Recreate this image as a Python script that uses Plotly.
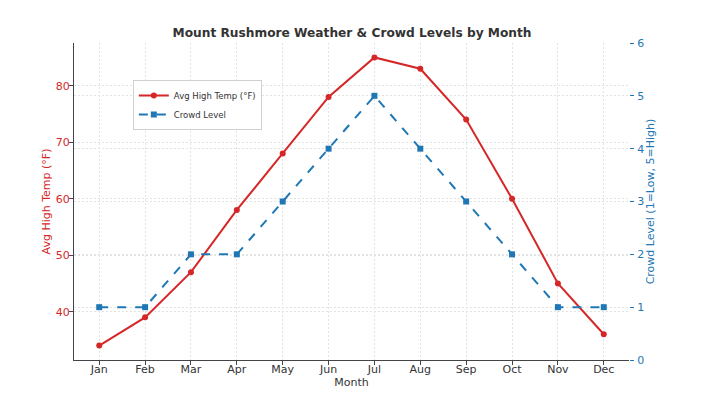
import plotly.graph_objects as go

months = ["Jan", "Feb", "Mar", "Apr", "May", "Jun", "Jul", "Aug", "Sep", "Oct", "Nov", "Dec"]
avg_high_temp = [34, 39, 47, 58, 68, 78, 85, 83, 74, 60, 45, 36]
crowd_level = [1, 1, 2, 2, 3, 4, 5, 4, 3, 2, 1, 1]

RED = "#d62728"
BLUE = "#1f77b4"
FONT = "DejaVu Sans"
GRID = "#e3e3e3"

fig = go.Figure()
fig.add_trace(go.Scatter(
    x=list(range(len(months))), y=avg_high_temp, name="Avg High Temp (°F)",
    mode="lines+markers", line=dict(color=RED, width=2),
    marker=dict(symbol="circle", size=6, color=RED), yaxis="y"))
fig.add_trace(go.Scatter(
    x=list(range(len(months))), y=crowd_level, name="Crowd Level",
    mode="lines+markers", line=dict(color=BLUE, width=2, dash="dash"),
    marker=dict(symbol="square", size=6, color=BLUE), yaxis="y2"))

fig.update_layout(
    width=705, height=391,
    margin=dict(l=66, r=84, t=35, b=39, autoexpand=False),
    paper_bgcolor="white", plot_bgcolor="white",
    font=dict(family=FONT, size=11, color="#333333"),
    title=dict(text="<b>Mount Rushmore Weather & Crowd Levels by Month</b>",
               x=0.488, xanchor="center", y=0.936, yanchor="middle",
               font=dict(size=12.2, color="#333333")),
    xaxis=dict(
        tickmode="array", tickvals=list(range(len(months))), ticktext=months,
        range=[-0.55, 11.55], showgrid=True, gridcolor=GRID, griddash="2px,2px",
        ticks="outside", ticklen=4, tickcolor="#444", showline=True, linecolor="#444",
        linewidth=1, zeroline=False, automargin=False, tickfont=dict(size=11),
        ticklabelstandoff=-5,
        title=dict(text="Month", standoff=2, font=dict(size=11))),
    yaxis=dict(
        range=[31.45, 87.55], tickvals=[40, 50, 60, 70, 80],
        showgrid=True, gridcolor=GRID, griddash="2px,2px",
        ticks="outside", ticklen=4, tickcolor="#444", showline=True, linecolor="#444",
        linewidth=1, zeroline=False, automargin=False, tickfont=dict(color=RED, size=11),
        ticklabelstandoff=-3,
        title=dict(text="Avg High Temp (°F)", font=dict(color=RED, size=11), standoff=2)),
    yaxis2=dict(
        range=[0, 6], tickvals=[0, 1, 2, 3, 4, 5, 6], overlaying="y", side="right",
        showgrid=True, gridcolor=GRID, griddash="2px,2px",
        ticks="outside", ticklen=4, tickcolor=BLUE, showline=False, zeroline=False,
        automargin=False, tickfont=dict(color=BLUE, size=11), ticklabelstandoff=1,
        title=dict(text="Crowd Level (1=Low, 5=High)", font=dict(color=BLUE, size=11), standoff=1)),
    legend=dict(x=0.106, y=0.883, xanchor="left", yanchor="top",
                bgcolor="rgba(255,255,255,0.9)", bordercolor="#d0d0d0", borderwidth=1,
                font=dict(size=8.5, color="#333333"), tracegroupgap=0),
    showlegend=True,
)

fig.write_html("out.html")
